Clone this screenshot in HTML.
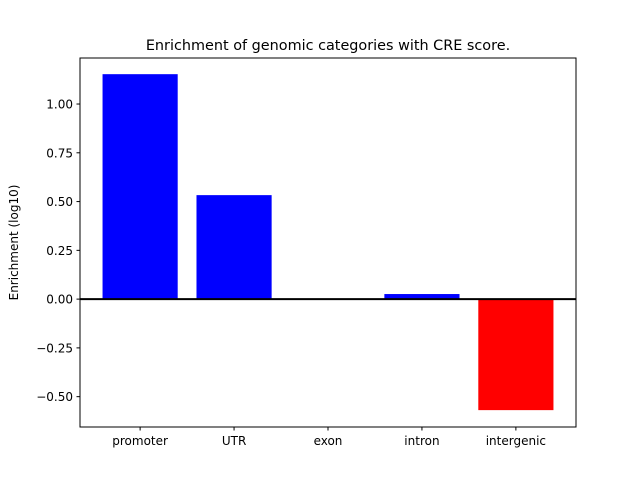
<!DOCTYPE html>
<html><head><meta charset="utf-8"><style>
body{margin:0;background:#fff;}
svg text{font-family:"DejaVu Sans","Liberation Sans",sans-serif;fill:#000;}
</style></head><body>
<svg id="chart" width="640" height="480" xmlns="http://www.w3.org/2000/svg">
<rect width="640" height="480" fill="#fff"/>
<text x="328" y="50" font-size="14.4" text-anchor="middle">Enrichment of genomic categories with CRE score.</text>
<text transform="translate(18,242.5) rotate(-90)" font-size="12" text-anchor="middle">Enrichment (log10)</text>
<g id="bars"></g>
<g id="ticks"></g>
<line id="zl" x1="80" x2="576" stroke="#000" stroke-width="2"/>
<rect x="80" y="58" width="496" height="369" fill="none" stroke="#000" stroke-width="1"/>
</svg>
<script>
const categories=["promoter","UTR","exon","intron","intergenic"];
const values=[1.153,0.533,0.003,0.026,-0.569];
const yTicks=[-0.5,-0.25,0,0.25,0.5,0.75,1.0];
const yTickLabels=["−0.50","−0.25","0.00","0.25","0.50","0.75","1.00"];
const NS="http://www.w3.org/2000/svg";
const L=80,R=576,T=58,B=427,yMin=-0.6555,yMax=1.2359;
const y=v=>B-(v-yMin)/(yMax-yMin)*(B-T);
const step=(R-L)/(categories.length+0.28);
const x=i=>L+step*(0.64+i);
const bw=step*0.8;
const svg=document.getElementById('chart');
const bars=document.getElementById('bars'),ticks=document.getElementById('ticks');
function mk(t,a){const e=document.createElementNS(NS,t);for(const k in a)e.setAttribute(k,a[k]);return e;}
categories.forEach((c,i)=>{
  const v=values[i];
  const r=mk('rect',{x:x(i)-bw/2,y:Math.min(y(v),y(0)),width:bw,height:Math.abs(y(v)-y(0)),fill:v>=0?'#0000ff':'#ff0000'});
  
  
  bars.appendChild(r);
  const tk=mk('line',{x1:x(i),x2:x(i),y1:B,y2:B+3.5,stroke:'#000'});
  
  
  ticks.appendChild(tk);
  const lb=mk('text',{x:x(i),y:B+18,'font-size':12,'text-anchor':'middle'});
  lb.textContent=c;
  
  
  ticks.appendChild(lb);
});
yTicks.forEach((v,i)=>{
  const tk=mk('line',{x1:L-3.5,x2:L,y1:y(v),y2:y(v),stroke:'#000'});
  
  
  ticks.appendChild(tk);
  const lb=mk('text',{x:L-7,y:y(v)+4.5,'font-size':12,'text-anchor':'end'});
  lb.textContent=yTickLabels[i];
  
  
  ticks.appendChild(lb);
});
const zl=document.getElementById('zl');zl.setAttribute('y1',y(0));zl.setAttribute('y2',y(0));
</script>
</body></html>
